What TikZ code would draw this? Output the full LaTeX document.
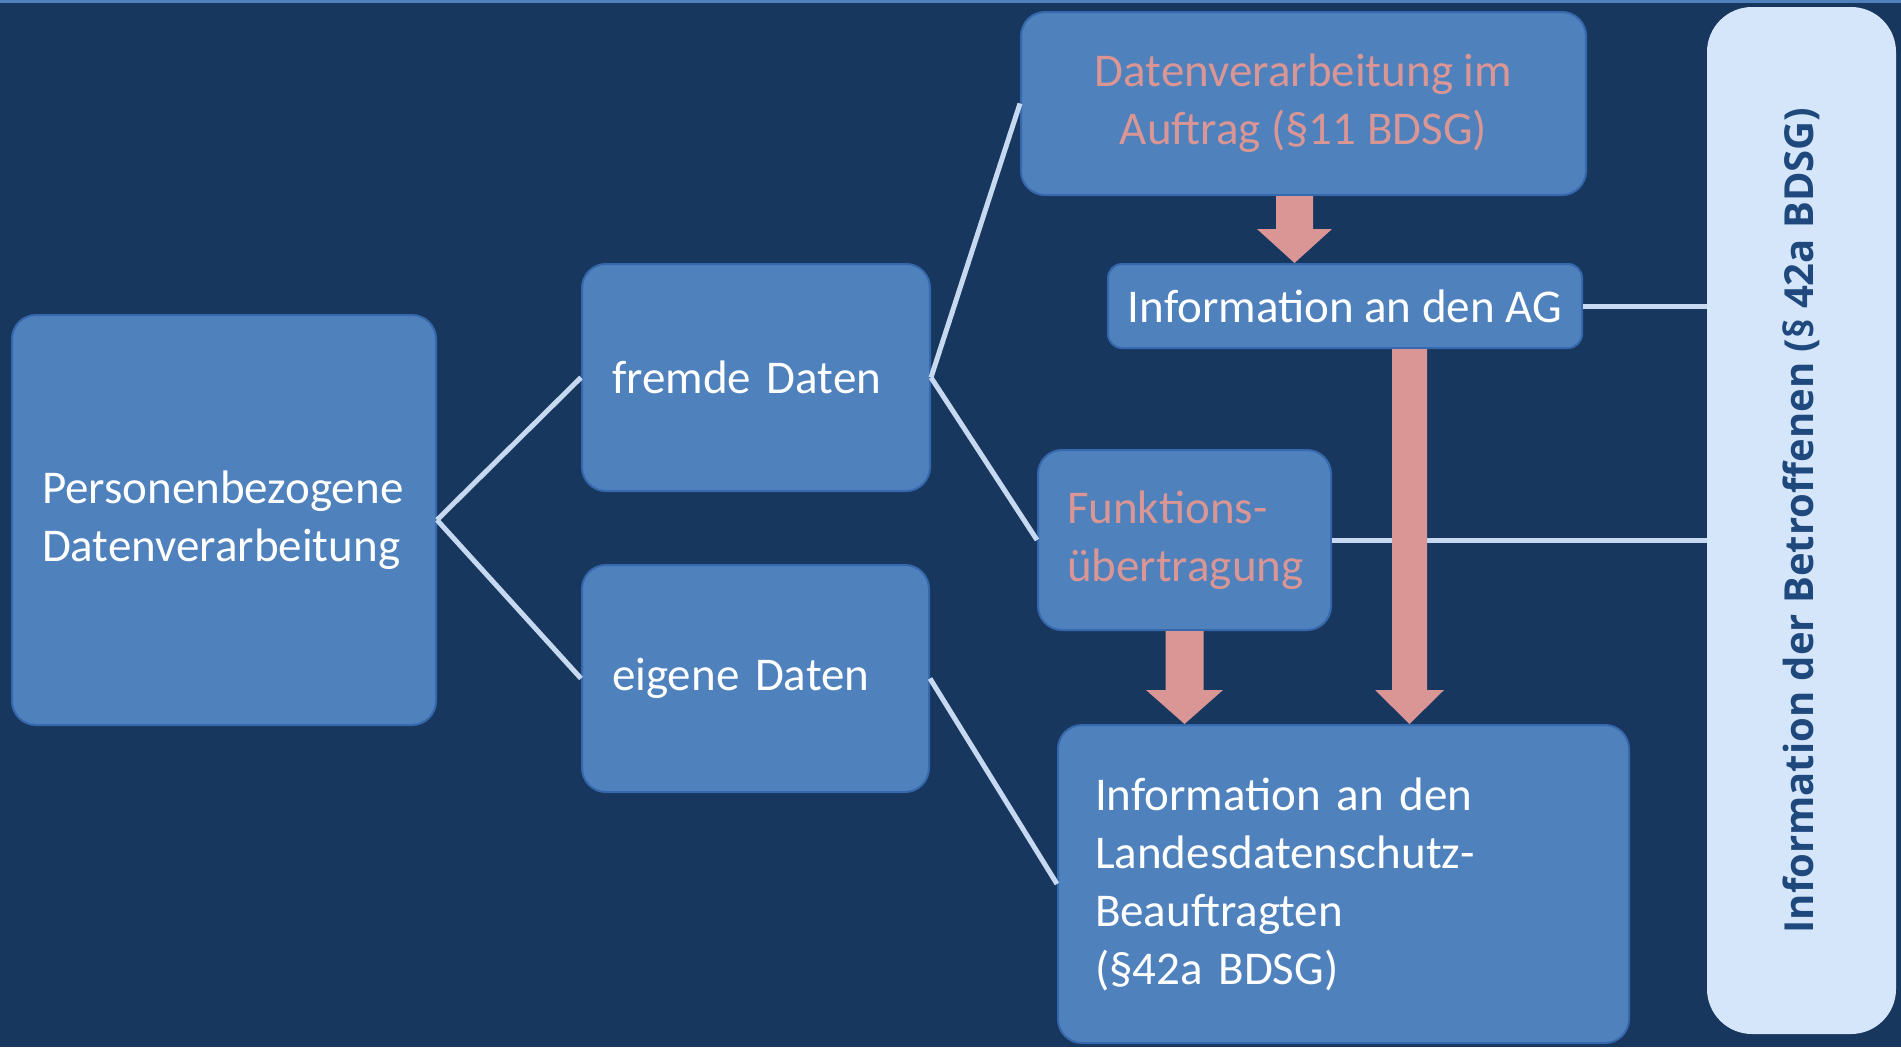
\documentclass[tikz,border=0pt]{standalone}
\usepackage{fontspec}
\setmainfont{Carlito}
\newfontfamily\vertfont{Open Sans}
\usetikzlibrary{calc}

\definecolor{bgnavy}{HTML}{17375E}
\definecolor{boxblue}{HTML}{4F81BD}
\definecolor{boxedge}{HTML}{3668AE}
\definecolor{rosa}{HTML}{D99694}
\definecolor{connblue}{HTML}{C6D9F1}
\definecolor{paleblue}{HTML}{D5E6FB}
\definecolor{textnavy}{HTML}{1F497D}

\tikzset{
  box/.style={draw=boxedge, line width=2pt, fill=boxblue, rounded corners=24pt,
    text=white, font=\fontsize{47}{58}\selectfont, inner ysep=0pt},
  leftbox/.style={box, align=left},
  midbox/.style={box, align=center, inner xsep=0pt},
  conn/.style={draw=connblue, line width=5pt},
  arrowpink/.style={fill=rosa}
}

% block arrow: from, tip, shaft half width, head half width
\newcommand\blockarrow[4]{%
  \fill[arrowpink] ($(#1)+(-#3,0)$) -- ($(#2)+(-#3,-34)$) -- ($(#2)+(-#4,-34)$)
    -- (#2) -- ($(#2)+(#4,-34)$) -- ($(#2)+(#3,-34)$) -- ($(#1)+(#3,0)$) -- cycle;}

\begin{document}
\begin{tikzpicture}[x=1pt,y=-1pt]
  \useasboundingbox (0,0) rectangle (1901,1047);
  \fill[bgnavy] (0,0) rectangle (1901,1047);
  \fill[boxblue] (0,0) rectangle (1901,3);

  \node[leftbox, text width=364pt, inner xsep=30pt, minimum height=410pt] (pdv) at (224,520)
    {Personenbezogene\\Datenverarbeitung};
  \node[leftbox, text width=288pt, inner xsep=30pt, minimum height=227pt] (fremd) at (756,377.5)
    {fremde Daten};
  \node[leftbox, text width=287pt, inner xsep=30pt, minimum height=227pt] (eigen) at (755.5,678.5)
    {eigene Daten};
  \node[midbox, text=rosa, minimum width=565pt, minimum height=183pt] (auftrag) at (1303.5,103.5)
    {Datenverarbeitung im\\Auftrag (§11 BDSG)};
  \node[midbox, rounded corners=14pt, minimum width=474pt, minimum height=84pt] (ag) at (1345,306)
    {Information an den AG};
  \node[leftbox, text=rosa, text width=235pt, inner xsep=29pt, minimum height=180pt] (funk) at (1184.5,540)
    {Funktions-\\übertragung};
  \node[leftbox, text width=497pt, inner xsep=37pt, minimum height=318pt] (ldsb) at (1343.5,884)
    {Information an den\\Landesdatenschutz-\\Beauftragten\\(§42a BDSG)};
  \node[fill=paleblue, rounded corners=45pt, rotate=90, minimum width=1027pt, minimum height=189pt,
    text=textnavy, font=\vertfont\bfseries\fontsize{40}{48}\selectfont] (betr) at (1801.5,520.5)
    {Information der Betroffenen (§ 42a BDSG)};

  % tree lines
  \draw[conn] (pdv.east) -- (fremd.west);
  \draw[conn] (pdv.east) -- (eigen.west);
  \draw[conn] (fremd.east) -- (auftrag.west);
  \draw[conn] (fremd.east) -- (funk.west);
  \draw[conn] (eigen.east) -- (ldsb.west);
  \draw[conn] (ag.east) -- (ag.east -| betr.north);
  \draw[conn] (funk.east) -- (funk.east -| betr.north);

  % arrows
  \coordinate (a1) at ($(auftrag.south)+(-9,0)$);
  \coordinate (a2) at ($(ag.south)+(64.5,0)$);
  \blockarrow{a1}{a1 |- ag.north}{18.5}{37.5}
  \blockarrow{a2}{a2 |- ldsb.north}{17.5}{34.5}
  \blockarrow{funk.south}{funk.south |- ldsb.north}{19}{38.5}
\end{tikzpicture}
\end{document}
